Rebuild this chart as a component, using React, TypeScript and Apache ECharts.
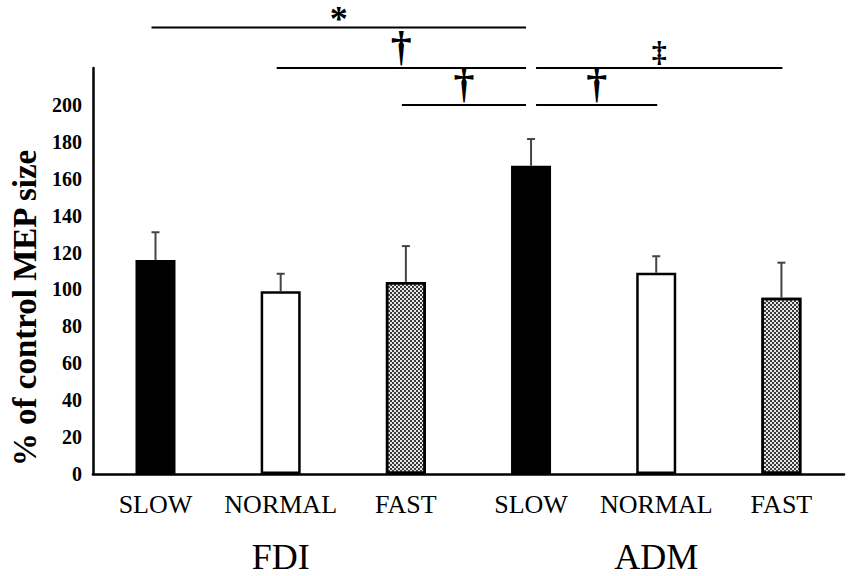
import React, { useEffect, useRef } from "react";
import * as echarts from "echarts";

// ---- data ----
const muscles = ["FDI", "ADM"];
const speeds = ["SLOW", "NORMAL", "FAST"];
const meanValues = [116, 99, 104, 167, 109, 95.5];
const errorValues = [15, 9.5, 19.5, 14.5, 9, 19];
const yMin = 0;
const yMax = 220;
const yStep = 20;
const yLabelMax = 200;
const yTitle = "% of control MEP size";

// significance brackets (category indices, level in y units, mark)
const bracketFrom = [0, 1, 3, 2, 3];
const bracketTo = [3, 3, 5, 3, 4];
const bracketLevel = [242, 220, 220, 200, 200];
const bracketMarks = ["*", "\u2020", "\u2021", "\u2020", "\u2020"];

const categories = muscles.flatMap((m) => speeds.map((s) => `${m} ${s}`));

const FONT = "'Liberation Serif', 'Times New Roman', serif";

const markStyle: Record<string, { size: number; dy: number }> = {
  "*": { size: 36, dy: 8 },
  "\u2020": { size: 42, dy: 22 },
  "\u2021": { size: 30, dy: 17 },
};

function speedStyle(speed: string) {
  if (speed === "SLOW") return { color: "#000", borderColor: "#000", borderWidth: 2.5 };
  if (speed === "NORMAL") return { color: "#fff", borderColor: "#000", borderWidth: 2.5 };
  return {
    color: "#e6e6e6",
    borderColor: "#000",
    borderWidth: 2.5,
    decal: {
      symbol: "rect",
      symbolSize: 1,
      color: "#3a3a3a",
      dashArrayX: [[2, 2], [0, 2, 2, 0]],
      dashArrayY: [2, 0],
      rotation: 0,
    },
  };
}

export default function App() {
  const ref = useRef<HTMLDivElement>(null);

  useEffect(() => {
    if (!ref.current) return;
    const chart = echarts.init(ref.current, null, { renderer: "svg" });
    const pivot = 3;

    const option: any = {
      animation: false,
      backgroundColor: "#fff",
      grid: { left: 85, right: 6, top: 68, bottom: 102, containLabel: false },
      xAxis: [
        {
          type: "category",
          data: categories,
          axisLine: { lineStyle: { color: "#000", width: 2.5 } },
          axisTick: { show: false },
          axisLabel: {
            interval: 0,
            formatter: (v: string) => v.split(" ")[1],
            color: "#000",
            fontFamily: FONT,
            fontSize: 26,
            margin: 17,
          },
          splitLine: { show: false },
        },
        {
          type: "category",
          data: muscles,
          position: "bottom",
          axisLine: { show: false },
          axisTick: { show: false },
          axisLabel: {
            interval: 0,
            color: "#000",
            fontFamily: FONT,
            fontSize: 36,
            margin: 65,
          },
          splitLine: { show: false },
        },
      ],
      yAxis: {
        type: "value",
        min: yMin,
        max: yMax,
        interval: yStep,
        name: yTitle,
        nameLocation: "middle",
        nameGap: 46,
        nameRotate: 90,
        nameTextStyle: {
          fontFamily: FONT,
          fontWeight: "bold",
          fontSize: 33,
          color: "#000",
          padding: [0, 74, 0, 0],
        },
        axisLine: { show: true, lineStyle: { color: "#000", width: 2.5 } },
        axisTick: { show: false },
        splitLine: { show: false },
        axisLabel: {
          formatter: (v: number) => (v > yLabelMax ? "" : String(v)),
          color: "#000",
          fontFamily: FONT,
          fontWeight: "bold",
          fontSize: 20,
          margin: 11,
        },
      },
      series: [
        {
          type: "bar",
          barWidth: 40,
          data: meanValues.map((v, i) => ({
            value: v,
            itemStyle: speedStyle(categories[i].split(" ")[1]),
          })),
          z: 2,
        },
        {
          type: "custom",
          z: 3,
          data: meanValues.map((v, i) => [i, v, v + errorValues[i]]),
          encode: { x: 0, y: [1, 2] },
          renderItem: (params: any, api: any) => {
            const base = api.coord([api.value(0), api.value(1)]);
            const top = api.coord([api.value(0), api.value(2)]);
            const st = { stroke: "#444", lineWidth: 2 };
            return {
              type: "group",
              children: [
                { type: "line", shape: { x1: base[0], y1: base[1], x2: top[0], y2: top[1] }, style: st },
                { type: "line", shape: { x1: top[0] - 4, y1: top[1], x2: top[0] + 4, y2: top[1] }, style: st },
              ],
            };
          },
        },
        {
          type: "custom",
          z: 4,
          clip: false,
          data: bracketFrom.map((f, i) => [f, bracketTo[i], bracketLevel[i]]),
          encode: { x: [0, 1], y: 2 },
          renderItem: (params: any, api: any) => {
            const from = api.value(0);
            const to = api.value(1);
            const lvl = api.value(2);
            const a = api.coord([from, lvl]);
            const b = api.coord([to, lvl]);
            const x1 = a[0] + (from === pivot ? 5 : -4);
            const x2 = b[0] + (to === pivot ? -5 : 1);
            const mark = bracketMarks[params.dataIndex];
            const ms = markStyle[mark];
            return {
              type: "group",
              children: [
                {
                  type: "line",
                  shape: { x1, y1: a[1], x2, y2: a[1] },
                  style: { stroke: "#000", lineWidth: 2 },
                },
                {
                  type: "text",
                  x: (x1 + x2) / 2,
                  y: a[1] - ms.dy,
                  style: {
                    text: mark,
                    fill: "#000",
                    font: `bold ${ms.size}px ${FONT}`,
                    textAlign: "center",
                    textVerticalAlign: "middle",
                  },
                },
              ],
            };
          },
        },
      ],
    };

    chart.setOption(option);
    return () => chart.dispose();
  }, []);

  return (
    <div
      ref={ref}
      style={{ position: "fixed", left: 0, top: 0, width: 850, height: 576 }}
    />
  );
}
